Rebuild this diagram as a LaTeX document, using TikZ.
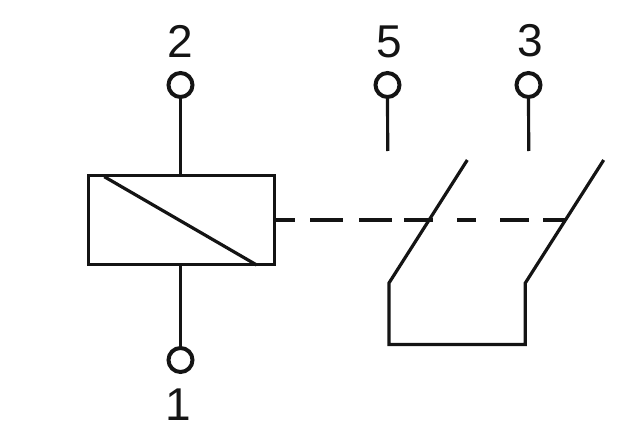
\documentclass[tikz,border=0pt]{standalone}
\usepackage{fontspec}
\setmainfont{Liberation Sans}
\tikzset{
  x=0.75pt,y=-0.75pt,
  wire/.style={draw=black!92,line width=2.4pt},
  terminal/.style={circle,draw=black!92,line width=3pt,fill=white,minimum size=18pt,inner sep=0pt},
  pinlabel/.style={font=\fontsize{34.5pt}{34.5pt}\selectfont,text=black!92,inner sep=0pt}
}
\begin{document}
\begin{tikzpicture}
\useasboundingbox (0,0) rectangle (639,435);
\node[terminal] (t2) at (180.5,85) {};
\node[terminal] (t5) at (387.5,85) {};
\node[terminal] (t3) at (528.5,85) {};
\node[terminal] (t1) at (180.5,360) {};
\node[pinlabel] (l2) at (180,41.5) {2};
\node[pinlabel] (l5) at (389,41.5) {5};
\node[pinlabel] (l3) at (530,40.5) {3};
\node[pinlabel] (l1) at (178,405) {1};
\node[wire,rectangle,minimum width=139.5pt,minimum height=66.5pt,inner sep=0pt] (coil) at (181.3,220) {};
\coordinate (c5) at (387.7,151);
\coordinate (c3) at (528.7,151);
\coordinate (a1) at (104.3,176.7);
\coordinate (a2) at (256.7,265);
\coordinate (s1top) at (467.3,160);
\coordinate (s1bot) at (389,283);
\coordinate (s1low) at (389,344.5);
\coordinate (s2low) at (525.3,344.5);
\coordinate (s2bot) at (525.3,283);
\coordinate (s2top) at (603.7,160);
\coordinate (d0) at (273,220);
\coordinate (d1) at (565,220);
\draw[wire] (t2) -- (t2 |- coil.north);
\draw[wire] (t1) -- (t1 |- coil.south);
\draw[wire] (t5) -- (c5);
\draw[wire] (t3) -- (c3);
\draw[wire] (a1) -- (a2);
\draw[wire,miter limit=10] (s1top) -- (s1bot) -- (s1low) -- (s2low) -- (s2bot) -- (s2top);
\draw[wire,dash pattern=on 16.5pt off 11.25pt on 24.75pt off 12pt on 24.75pt off 9pt on 21.75pt off 18pt on 14.25pt off 18pt on 21.75pt off 10.5pt on 16.5pt off 40pt] (d0) -- (d1);
\end{tikzpicture}
\end{document}
